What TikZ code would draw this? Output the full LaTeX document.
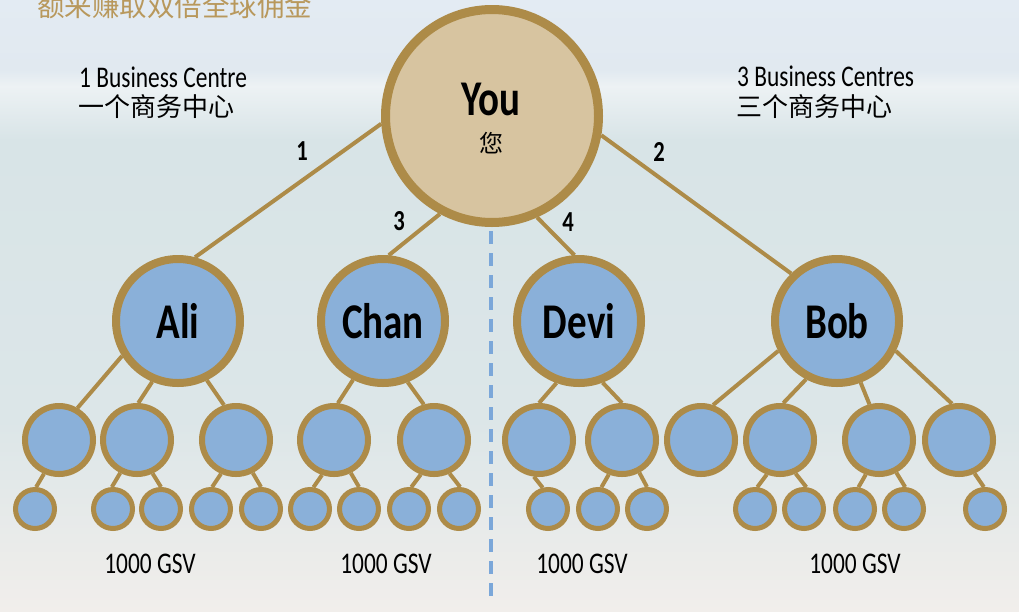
\documentclass[tikz,border=0pt]{standalone}
\usepackage{fontspec}
\setmainfont{Carlito}[FakeStretch=0.78]
\newfontfamily\cjk{Noto Sans CJK SC}
\definecolor{gold}{HTML}{AD8B48}
\definecolor{youfill}{HTML}{D7C4A0}
\definecolor{bluefill}{HTML}{8AB0D9}
\definecolor{dashblue}{HTML}{7BA7D9}
\definecolor{titlegold}{HTML}{B8985C}
\definecolor{skytop}{HTML}{E3EBF3}
\definecolor{sky}{HTML}{E1E9F0}
\definecolor{horizon}{HTML}{EDF2F4}
\definecolor{sea}{HTML}{D8E4E7}
\definecolor{seafar}{HTML}{DCE6E8}
\definecolor{sand}{HTML}{F1EEEB}
\begin{document}
\begin{tikzpicture}[
        x = 1pt,
        y = -1pt,
        youball/.style = {circle, draw = gold, fill = youfill, line width = 9pt, minimum size = 213pt, inner sep = 0pt},
        topball/.style = {circle, draw = gold, fill = bluefill, line width = 8pt, minimum size = 124pt, inner sep = 0pt, font = \fontsize{50}{50}\selectfont\bfseries},
        midball/.style = {circle, draw = gold, fill = bluefill, line width = 6pt, minimum size = 68pt, inner sep = 0pt},
        tinyball/.style = {circle, draw = gold, fill = bluefill, line width = 5pt, minimum size = 39pt, inner sep = 0pt},
        link/.style = {draw = gold, line width = 4pt},
        num/.style = {inner sep = 0pt, font = \fontsize{29}{29}\selectfont\bfseries},
        caption/.style = {anchor = base west, inner sep = 0pt, font = \fontsize{30}{30}\selectfont},
        cncaption/.style = {anchor = base west, inner sep = 0pt, font = \fontsize{26}{26}\selectfont\cjk}
    ]
        \useasboundingbox (0,0) rectangle (1019,611);
        \clip (0,0) rectangle (1019,611);
        \shade[top color = skytop, bottom color = sky] (0,0) rectangle (1019,70);
        \shade[top color = sky, bottom color = horizon] (0,70) rectangle (1019,86);
        \shade[top color = horizon, bottom color = sea] (0,86) rectangle (1019,140);
        \shade[top color = sea, bottom color = seafar] (0,140) rectangle (1019,420);
        \shade[top color = seafar, bottom color = sand] (0,420) rectangle (1019,611);

        \node[anchor = base west, inner sep = 0pt, text = titlegold, font = \fontsize{27.5}{27.5}\selectfont\cjk] (title) at (37,16) {额来赚取双倍全球佣金};
        \node[caption] (left) at (79,87) {1 Business Centre};
        \node[cncaption] (leftcn) at (78,116) {一个商务中心};
        \node[caption] (right) at (737,86) {3 Business Centres};
        \node[cncaption] (rightcn) at (736,116) {三个商务中心};

        \coordinate (dtop) at (491,231);
        \coordinate (dbot) at (491,604);
        \draw[dashblue, line width = 4pt, dash pattern = on 13pt off 9pt] (dtop) -- (dbot);

        \node[youball] (you) at (492,116) {};
        \node[anchor = base, inner sep = 0pt, font = \fontsize{50}{50}\selectfont\bfseries] (youname) at (491,115) {You};
        \node[anchor = base, inner sep = 0pt, font = \fontsize{24}{24}\selectfont\cjk] (youcn) at (491,152) {您};

        \node[topball] (ali) at (178,321) {Ali};
        \node[topball] (chan) at (383,321) {Chan};
        \node[topball] (devi) at (579,321) {Devi};
        \node[topball] (bob) at (837,321) {Bob};

        \foreach \x [count = \i] in {59,137,236,334,434,539,622,701,780,879,959}
            \node[midball] (m\i) at (\x,440) {};
        \foreach \x [count = \i] in {35,113,161,211,261,310,359,409,459,548,598,647,755,804,855,904,985}
            \node[tinyball] (s\i) at (\x,509) {};

        \draw[link] (you.184) -- (ali.75);
        \draw[link] (you.350) -- (bob.134);
        \draw[link] (you.242) -- (chan.85);
        \draw[link] (you.294) -- (devi.94);
        \node[num] (n1) at (302,151) {1};
        \node[num] (n2) at (659,152) {2};
        \node[num] (n3) at (399,221) {3};
        \node[num] (n4) at (568,222) {4};

        \foreach \a/\b/\c/\d in {ali/212/m1/60, ali/247/m2/88, ali/296/m3/109, chan/243/m4/84, chan/292/m5/106, devi/250/m6/90, devi/291/m7/90, bob/207/m8/71, bob/242/m9/85, bob/291/m10/105, bob/333/m11/101}
            \draw[link] (\a.\b) -- (\c.\d);
        \foreach \a/\b/\c/\d in {m1/246/s1/87, m2/243/s2/93, m2/295/s3/90, m3/246/s4/87, m3/297/s5/90, m4/251/s6/81, m4/297/s7/90, m5/249/s8/84, m5/295/s9/87, m6/262/s10/104, m7/249/s11/81, m7/298/s12/90, m9/249/s13/84, m9/295/s14/84, m10/249/s15/81, m10/298/s16/87, m11/295/s17/93}
            \draw[link] (\a.\b) -- (\c.\d);

        \node[caption, anchor = base] (gsv1) at (150,573) {1000 GSV};
        \node[caption, anchor = base] (gsv2) at (386,573) {1000 GSV};
        \node[caption, anchor = base] (gsv3) at (582,573) {1000 GSV};
        \node[caption, anchor = base] (gsv4) at (855,573) {1000 GSV};
    \end{tikzpicture}
\end{document}
